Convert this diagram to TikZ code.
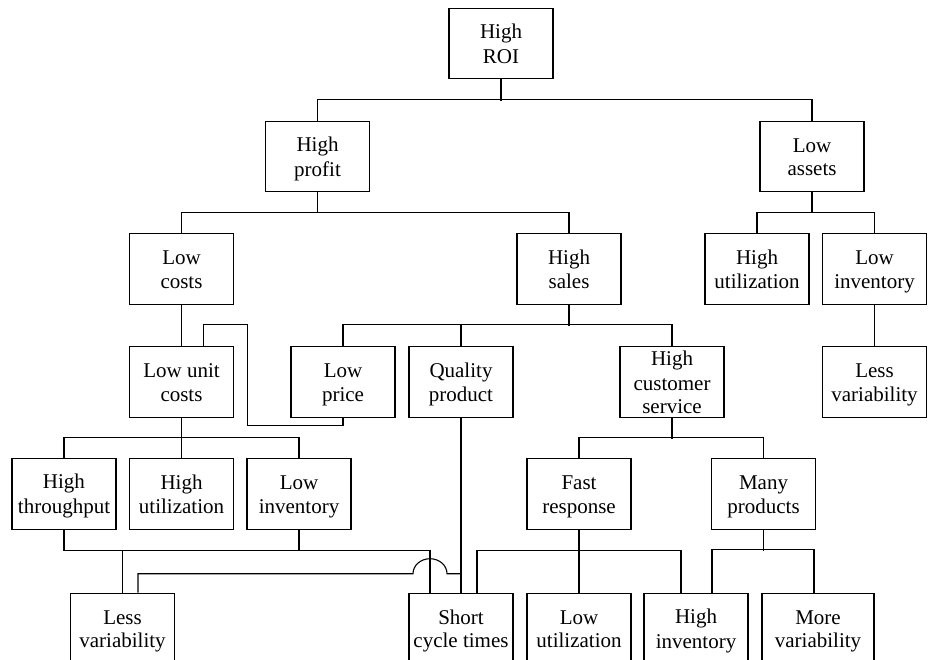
\documentclass[tikz,border=0pt]{standalone}
\usepackage{fontspec}
\setmainfont{Liberation Serif}
\newcommand\ls{\rule[-4.2pt]{0pt}{23.5pt}}
\begin{document}
\begin{tikzpicture}[x=1pt,y=-1pt,
  box/.style={draw,rectangle,line width=1.1pt,minimum width=104pt,minimum height=70.5pt,inner sep=0pt,align=center,font=\fontsize{21}{23.5}\selectfont},
  wire/.style={line width=1.1pt}]
\useasboundingbox (0,0) rectangle (928,659);
\clip (0,0) rectangle (928,659);
% row 0
\node[box] (roi) at (501,43.5) {\ls High\\\ls ROI};
% row 1
\node[box] (profit) at (317.5,156.5) {\ls High\\\ls profit};
\node[box] (assets) at (812,156.5) {\ls Low\\\ls assets};
% row 2
\node[box] (costs) at (181.5,269) {\ls Low\\\ls costs};
\node[box] (sales) at (569,269) {\ls High\\\ls sales};
\node[box] (autil) at (757,269) {\ls High\\\ls utilization};
\node[box] (ainv) at (874.5,269) {\ls Low\\\ls inventory};
% row 3
\node[box] (unit) at (181.5,382) {\ls Low unit\\\ls costs};
\node[box] (price) at (343,382) {\ls Low\\\ls price};
\node[box] (quality) at (461,382) {\ls Quality\\\ls product};
\node[box] (service) at (672,382) {\ls High\\\ls customer\\\ls service};
\node[box] (alessvar) at (874.5,382) {\ls Less\\\ls variability};
% row 4
\node[box] (thru) at (64,494) {\ls High\\\ls throughput};
\node[box] (util) at (181.5,494) {\ls High\\\ls utilization};
\node[box] (inv) at (299,494) {\ls Low\\\ls inventory};
\node[box] (fast) at (579,494) {\ls Fast\\\ls response};
\node[box] (many) at (763.5,494) {\ls Many\\\ls products};
% row 5
\node[box] (lessvar) at (122.5,628.5) {\ls Less\\\ls variability};
\node[box] (short) at (461,628.5) {\ls Short\\\ls cycle times};
\node[box] (lowutil) at (579,628.5) {\ls Low\\\ls utilization};
\node[box] (highinv) at (696,628.5) {\ls High\\\ls inventory};
\node[box,minimum width=112pt] (morevar) at (818,628.5) {\ls More\\\ls variability};
% connectors
\draw[wire] (roi.south) -- ++(0,21.5);
\draw[wire] (profit.north) -- ++(0,-21) -| (assets.north);
\draw[wire] (profit.south) -- ++(0,21);
\draw[wire] (costs.north) -- ++(0,-21) -| (sales.north);
\draw[wire] (assets.south) -- ++(0,21);
\draw[wire] (autil.north) -- ++(0,-21) -| (ainv.north);
\draw[wire] (costs.south) -- (unit.north);
\draw[wire] (ainv.south) -- (alessvar.north);
\draw[wire] (sales.south) -- ++(0,21);
\draw[wire] (price.north) -- ++(0,-22) -| (service.north);
\draw[wire] (quality.north) -- ++(0,-22);
\draw[wire] ([xshift=22pt]unit.north) -- ++(0,-22) -- ++(44,0) |- ([yshift=-8pt]price.south) -- (price.south);
\draw[wire] (unit.south) -- ++(0,21.5);
\draw[wire] (thru.north) -- ++(0,-20.5) -| (inv.north);
\draw[wire] (util.north) -- ++(0,-20.5);
\draw[wire] (service.south) -- ++(0,21);
\draw[wire] (fast.north) -- ++(0,-21) -| (many.north);
\draw[wire] (thru.south) -- ++(0,21) -| ([xshift=-31pt]short.north);
\draw[wire] (inv.south) -- ++(0,21);
\draw[wire] (lessvar.north) -- ++(0,-43);
\draw[wire] ([xshift=15.5pt]lessvar.north) |- ([xshift=-48pt,yshift=19pt]short.north)
  arc[start angle=180,end angle=0,x radius=17pt,y radius=15pt] -- ([yshift=19pt]short.north);
\draw[wire] (quality.south) -- (short.north);
\draw[wire] ([xshift=16pt]short.north) -- ++(0,-42) -| ([xshift=-15pt]highinv.north);
\draw[wire] (fast.south) -- (lowutil.north);
\draw[wire] (many.south) -- ++(0,21);
\draw[wire] ([xshift=16pt]highinv.north) -- ++(0,-43) -| ([xshift=-4pt]morevar.north);
\end{tikzpicture}
\end{document}
